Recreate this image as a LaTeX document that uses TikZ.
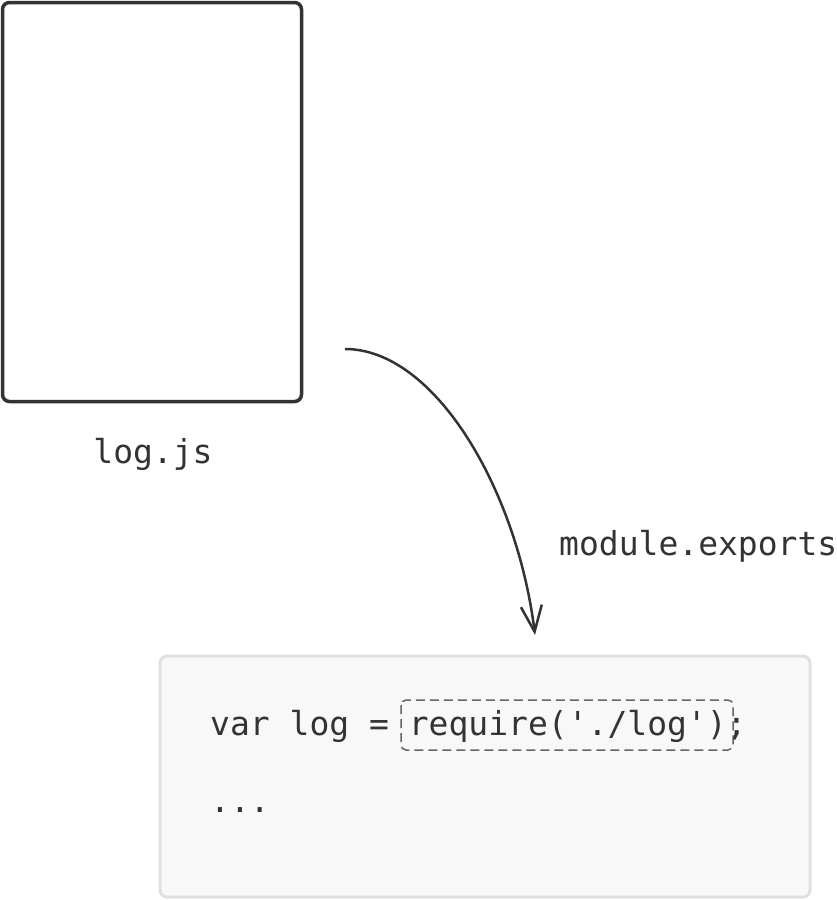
\documentclass[tikz,border=0pt]{standalone}
\usepackage{fontspec}
\setmonofont{DejaVu Sans Mono}
\usetikzlibrary{arrows.meta}
\definecolor{ink}{HTML}{333333}
\definecolor{codefill}{HTML}{F8F8F8}
\definecolor{codeedge}{HTML}{E0E0E0}
\definecolor{dashgray}{HTML}{666666}
\tikzset{
  mono/.style={inner sep=0pt, anchor=base west, text=ink, font=\fontsize{33}{40}\selectfont\ttfamily},
  filebox/.style={draw=ink, line width=3.5pt, rounded corners=7pt, fill=white},
  codebox/.style={draw=codeedge, fill=codefill, line width=3pt, rounded corners=7pt},
  hilite/.style={draw=dashgray, line width=1.5pt, dash pattern=on 9pt off 5pt, rounded corners=5pt},
  flow/.style={draw=ink, line width=2.5pt, -{Straight Barb[length=26pt,width=21pt]}}
}
\begin{document}
\begin{tikzpicture}[x=1pt,y=-1pt]
\useasboundingbox (0,0) rectangle (837,900);
% file box
\draw[filebox] (2.5,2.5) rectangle (301.5,401.5);
\node[mono, anchor=base] (lbl) at (153,463) {log.js};
% code box
\draw[codebox] (160,656) rectangle (810,897);
\draw[hilite] (401,700) rectangle (733,750);
\node[mono] (code) at (210,735) {var log = require('./log');};
\node[mono] (dots) at (210,812) {...};
% arrow
\coordinate (arrS) at (345,349);
\coordinate (arrE) at (535,635);
\draw[flow] (arrS) .. controls (435,349) and (517,490) .. (arrE);
\node[mono] (exp) at (559,555) {module.exports};
\end{tikzpicture}
\end{document}
